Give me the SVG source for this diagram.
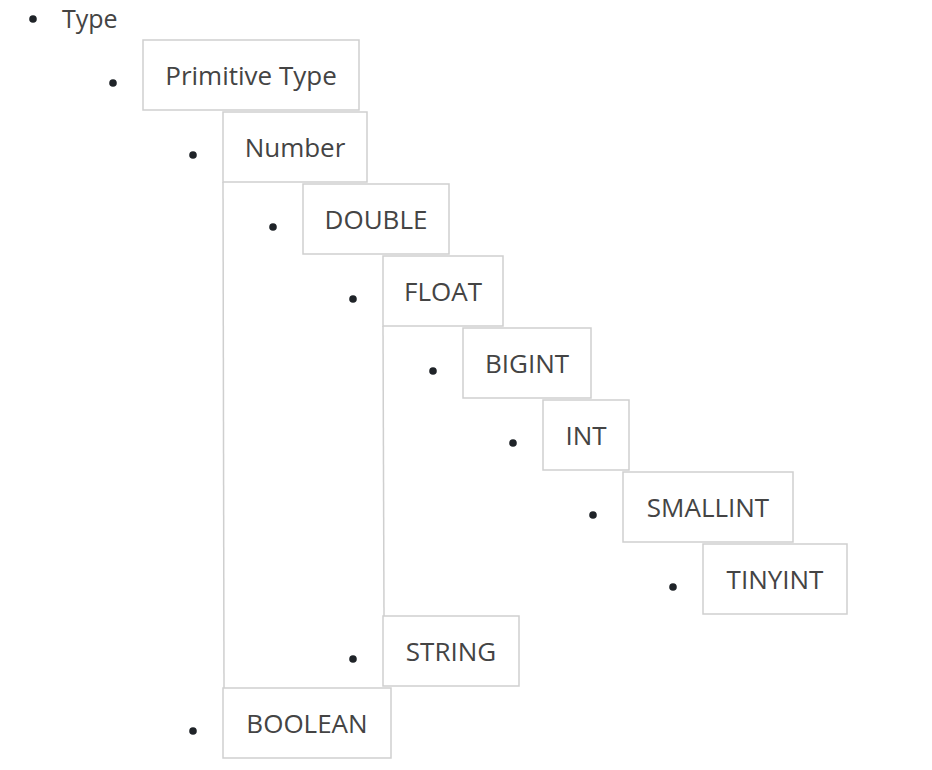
<svg xmlns="http://www.w3.org/2000/svg" width="932" height="770" viewBox="0 0 932 770">
<style>
.box{fill:#fff;stroke:#cfcfcf;stroke-width:1.5}
.lbl{font-family:"Open Sans","Noto Sans",sans-serif;font-size:26px;fill:#444;text-anchor:middle}
.dot{fill:#1f2328}
.ln{stroke:#cfcfcf;stroke-width:1.5;fill:none}
</style>
<rect width="932" height="770" fill="#fff"/>
<g id="connectors">
<line class="ln" x1="223" y1="182" x2="224" y2="688"/>
<line class="ln" x1="383" y1="326" x2="384" y2="616"/>
</g>
<g id="type">
<circle class="dot" cx="33" cy="19" r="3.8"/>
<text class="lbl" x="62" y="28" style="text-anchor:start;font-size:25px">Type</text>
</g>
<g id="primitive-type">
<circle class="dot" cx="113" cy="83" r="3.8"/>
<rect class="box" x="143" y="40" width="216" height="70"/>
<text class="lbl" x="251" y="84.5">Primitive Type</text>
</g>
<g id="number">
<circle class="dot" cx="193" cy="155" r="3.8"/>
<rect class="box" x="223" y="112" width="144" height="70"/>
<text class="lbl" x="295" y="156.5">Number</text>
</g>
<g id="double">
<circle class="dot" cx="273" cy="227" r="3.8"/>
<rect class="box" x="303" y="184" width="146" height="70"/>
<text class="lbl" x="376" y="228.5">DOUBLE</text>
</g>
<g id="float">
<circle class="dot" cx="353" cy="299" r="3.8"/>
<rect class="box" x="383" y="256" width="120" height="70"/>
<text class="lbl" x="443" y="300.5">FLOAT</text>
</g>
<g id="bigint">
<circle class="dot" cx="433" cy="371" r="3.8"/>
<rect class="box" x="463" y="328" width="128" height="70"/>
<text class="lbl" x="527" y="372.5">BIGINT</text>
</g>
<g id="int">
<circle class="dot" cx="513" cy="443" r="3.8"/>
<rect class="box" x="543" y="400" width="86" height="70"/>
<text class="lbl" x="586" y="444.5">INT</text>
</g>
<g id="smallint">
<circle class="dot" cx="593" cy="515" r="3.8"/>
<rect class="box" x="623" y="472" width="170" height="70"/>
<text class="lbl" x="708" y="516.5">SMALLINT</text>
</g>
<g id="tinyint">
<circle class="dot" cx="673" cy="587" r="3.8"/>
<rect class="box" x="703" y="544" width="144" height="70"/>
<text class="lbl" x="775" y="588.5">TINYINT</text>
</g>
<g id="string">
<circle class="dot" cx="353" cy="659" r="3.8"/>
<rect class="box" x="383" y="616" width="136" height="70"/>
<text class="lbl" x="451" y="660.5">STRING</text>
</g>
<g id="boolean">
<circle class="dot" cx="193" cy="731" r="3.8"/>
<rect class="box" x="223" y="688" width="168" height="70"/>
<text class="lbl" x="307" y="732.5">BOOLEAN</text>
</g>
</svg>
